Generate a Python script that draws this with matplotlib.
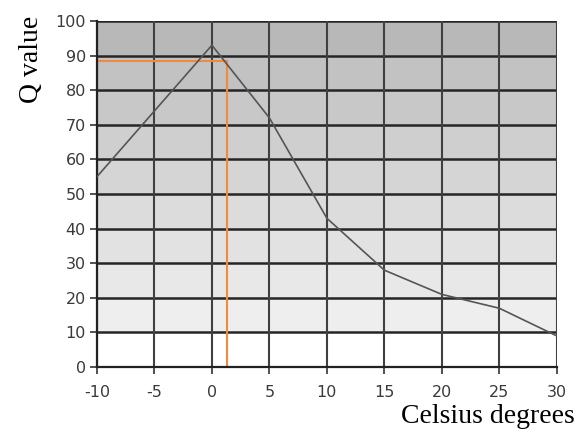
import matplotlib.pyplot as plt
import numpy as np

# readings
celsius = [-10, -5, 0, 5, 10, 15, 20, 25, 30]
q_value = [55, 74, 93, 72, 43, 28, 21, 17, 9]

# orange guide read at Q = 88.5
guide_x = 1.35
guide_y = 88.5

x_ticks = [-10, -5, 0, 5, 10, 15, 20, 25, 30]
y_ticks = [0, 10, 20, 30, 40, 50, 60, 70, 80, 90, 100]

plt.rcParams["axes.unicode_minus"] = False

fig = plt.figure(figsize=(5.77, 4.37), dpi=100)
ax = fig.add_axes([0.168, 0.160, 0.797, 0.792])

# banded grey background, darker towards the top
band_shade = [1.0, 0.93, 0.91, 0.885, 0.86, 0.835, 0.81, 0.785, 0.76, 0.72]
bands = np.array(band_shade)[::-1].reshape(-1, 1)
ax.imshow(bands, cmap="gray", vmin=0, vmax=1, aspect="auto",
          extent=[-10, 30, 0, 100], zorder=0, interpolation="nearest")

for yv in y_ticks:
    ax.axhline(yv, color="#252525", lw=1.8, zorder=1)
for xv in x_ticks:
    ax.axvline(xv, color="#404040", lw=1.5, zorder=1)

ax.plot(celsius, q_value, color="#555555", lw=1.2, zorder=3)

ax.plot([-10, guide_x], [guide_y, guide_y], color="#f08a3c", lw=1.5, zorder=2)
ax.plot([guide_x, guide_x], [guide_y, 0], color="#f08a3c", lw=1.5, zorder=2)

ax.set_xlim(-10, 30)
ax.set_ylim(0, 100)
ax.set_xticks(x_ticks)
ax.set_yticks(y_ticks)
ax.tick_params(axis="both", length=5, width=1.2, color="#333333",
               labelsize=11.5, labelcolor="#3a3a3a", pad=3)
ax.tick_params(axis="x", pad=8)

for s in ["top", "right"]:
    ax.spines[s].set_visible(False)
ax.spines["left"].set_color("#222222")
ax.spines["bottom"].set_color("#222222")
ax.spines["left"].set_linewidth(1.6)
ax.spines["bottom"].set_linewidth(1.6)

fig.text(0.055, 0.865, "Q value", rotation=90, ha="center", va="center",
         family="Liberation Serif", fontsize=20)
fig.text(0.845, 0.047, "Celsius degrees", ha="center", va="center",
         family="Liberation Serif", fontsize=20)

fig.savefig("out.png", dpi=100)
